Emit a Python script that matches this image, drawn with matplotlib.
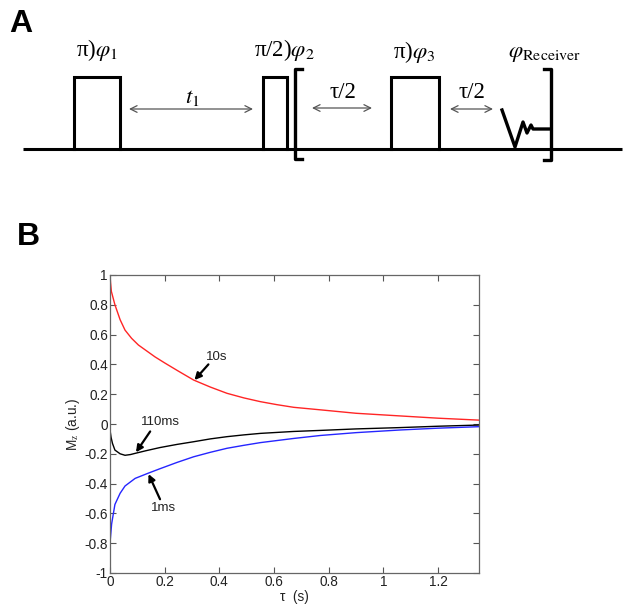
import numpy as np
import matplotlib.pyplot as plt

plt.rcParams['mathtext.fontset'] = 'stix'

# panel B data
tau_red = [0, 0.005, 0.018, 0.037, 0.055, 0.079, 0.104, 0.165, 0.2, 0.25, 0.306, 0.367, 0.428, 0.49,
           0.55, 0.61, 0.672, 0.77, 0.9, 1.063, 1.2, 1.35]
mz_red = [0.99, 0.89, 0.80, 0.70, 0.63, 0.575, 0.53, 0.45, 0.41, 0.355, 0.295, 0.248, 0.206, 0.175,
          0.15, 0.13, 0.112, 0.095, 0.072, 0.054, 0.039, 0.026]

tau_blk = [0, 0.004, 0.009, 0.018, 0.037, 0.055, 0.075, 0.092, 0.13, 0.183, 0.245, 0.306, 0.367, 0.428,
           0.49, 0.55, 0.672, 0.77, 0.9, 1.063, 1.2, 1.35]
mz_blk = [-0.04, -0.09, -0.13, -0.175, -0.20, -0.21, -0.205, -0.197, -0.18, -0.158, -0.137, -0.119, -0.10, -0.085,
          -0.073, -0.063, -0.05, -0.043, -0.033, -0.024, -0.015, -0.007]

tau_blu = [0, 0.006, 0.018, 0.037, 0.055, 0.092, 0.14, 0.183, 0.245, 0.306, 0.367, 0.428, 0.49, 0.55,
           0.672, 0.77, 0.9, 1.063, 1.2, 1.35]
mz_blu = [-0.80, -0.67, -0.54, -0.465, -0.416, -0.365, -0.33, -0.30, -0.258, -0.22, -0.19, -0.163, -0.143, -0.125,
          -0.097, -0.077, -0.058, -0.04, -0.028, -0.018]

xticks = [0, 0.2, 0.4, 0.6, 0.8, 1, 1.2]
xtick_labels = ['0', '0.2', '0.4', '0.6', '0.8', '1', '1.2']
yticks = [-1, -0.8, -0.6, -0.4, -0.2, 0, 0.2, 0.4, 0.6, 0.8, 1]
ytick_labels = ['-1', '-0.8', '-0.6', '-0.4', '-0.2', '0', '0.2', '0.4', '0.6', '0.8', '1']

# (label, text xy, arrow tail, arrow tip)
notes = [('10s', (0.391, 0.45), (0.36, 0.40), (0.309, 0.295)),
         ('110ms', (0.183, 0.015), (0.147, -0.05), (0.095, -0.19)),
         ('1ms', (0.196, -0.566), (0.183, -0.505), (0.141, -0.336))]

# panel A schematic (pixel coords of the sequence drawing)
base_y = 149
pulses = [(74, 120, 77), (263, 287, 77), (391, 439, 77)]
fid_x = [502, 515, 523, 527, 531, 533, 549]
fid_y = [110, 147, 122, 133, 125, 129, 129]
delays = [(129, 253, 109), (312, 372, 108), (450, 493, 109)]

fig = plt.figure(figsize=(6.31, 6.14), dpi=100)

# ---- panel A
ax0 = fig.add_axes([0, 0, 1, 1])
ax0.set_xlim(0, 631)
ax0.set_ylim(614, 0)
ax0.axis('off')

ax0.plot([23, 622], [base_y, base_y], color='black', lw=2.2, solid_capstyle='butt')
for x0, x1, top in pulses:
    ax0.plot([x0, x0, x1, x1], [base_y, top, top, base_y], color='black', lw=2.2, solid_joinstyle='miter')
ax0.plot([302, 295, 295, 302], [69, 69, 159, 159], color='black', lw=2.4)
ax0.plot([544, 551, 551, 544], [69, 69, 160, 160], color='black', lw=2.4)
ax0.plot(fid_x, fid_y, color='black', lw=2.4)
for x0, x1, y in delays:
    ax0.annotate('', xy=(x0, y), xytext=(x1, y),
                 arrowprops=dict(arrowstyle='<->', color='#555555', lw=0.9,
                                 shrinkA=0, shrinkB=0, mutation_scale=12))

serif = 'Liberation Serif'
fs = 16.5
ax0.text(97, 50, r'π)$\varphi_1$', fontsize=fs, family=serif, ha='center', va='center')
ax0.text(284, 50, r'π/2)$\varphi_2$', fontsize=fs, family=serif, ha='center', va='center')
ax0.text(414, 52, r'π)$\varphi_3$', fontsize=fs, family=serif, ha='center', va='center')
ax0.text(545, 52, r'$\varphi_{\mathrm{Receiver}}$', fontsize=fs, ha='center', va='center')
ax0.text(192, 96, r'$t_1$', fontsize=fs, ha='center', va='center')
ax0.text(343, 93, 'τ/2', fontsize=fs, family=serif, ha='center', va='center')
ax0.text(472, 93, 'τ/2', fontsize=fs, family=serif, ha='center', va='center')

ax0.text(21, 24, 'A', fontsize=23, fontweight='bold', family='Liberation Sans', ha='center', va='center')
ax0.text(28, 237, 'B', fontsize=23, fontweight='bold', family='Liberation Sans', ha='center', va='center')

# ---- panel B
ax = fig.add_axes([110 / 631, 1 - 573 / 614, 369 / 631, 298 / 614])
ax.plot(tau_red, mz_red, color='#ff2525', lw=1)
ax.plot(tau_blk, mz_blk, color='black', lw=1)
ax.plot(tau_blu, mz_blu, color='#2525ff', lw=1)

for label, txy, tail, tip in notes:
    ax.text(txy[0], txy[1], label, fontsize=9.5, family='Liberation Sans', ha='center', va='center',
            color='#222222')
    ax.annotate('', xy=tip, xytext=tail,
                arrowprops=dict(arrowstyle='-|>', color='black', lw=1.6,
                                shrinkA=0, shrinkB=0, mutation_scale=10))

ax.set_xlim(0, 1.35)
ax.set_ylim(-1, 1)
ax.set_xticks(xticks)
ax.set_xticklabels(xtick_labels)
ax.set_yticks(yticks)
ax.set_yticklabels(ytick_labels)
ax.tick_params(direction='in', top=True, right=True, length=4, width=0.8,
               color='#555555', labelsize=9.8, pad=1.5, labelcolor='#222222')
for t in ax.get_xticklabels() + ax.get_yticklabels():
    t.set_family('Liberation Sans')
for s in ax.spines.values():
    s.set_color('#666666')
    s.set_linewidth(0.9)
ax.set_xlabel('τ  (s)', fontsize=9.8, family='Liberation Sans', labelpad=1, color='#222222')
ax.set_ylabel('M$_\\mathrm{z}$ (a.u.)', fontsize=9.8, family='Liberation Sans', labelpad=2, color='#222222')

fig.savefig('out.png', dpi=100)
